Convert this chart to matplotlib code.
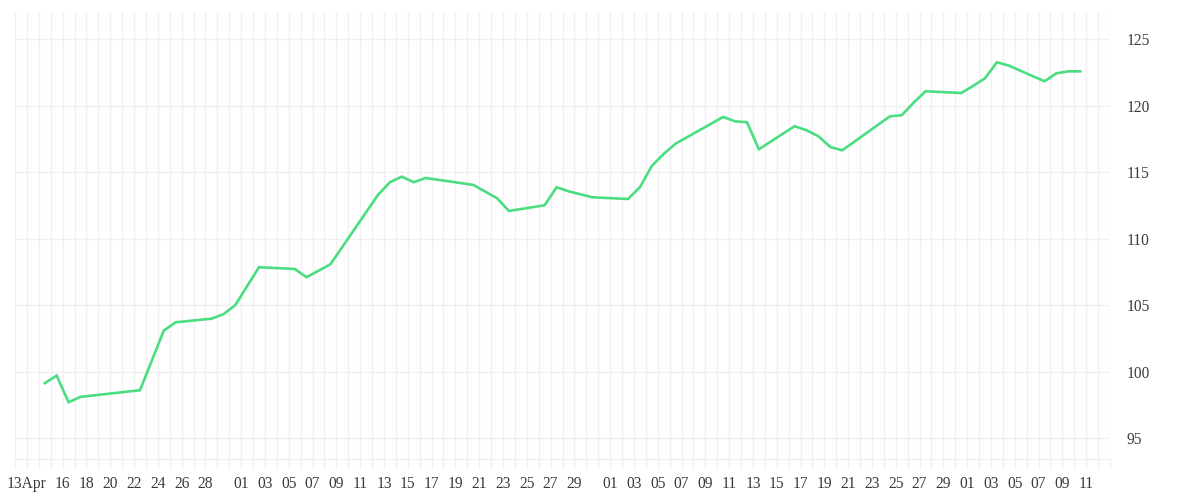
import numpy as np
import pandas as pd
from matplotlib import pyplot as plt
from matplotlib import ticker

# closing values, one per trading day
dates = [
    "2024-04-14", "2024-04-15", "2024-04-16", "2024-04-17", "2024-04-22",
    "2024-04-24", "2024-04-25", "2024-04-28", "2024-04-29", "2024-04-30",
    "2024-05-02", "2024-05-05", "2024-05-06", "2024-05-08", "2024-05-12",
    "2024-05-13", "2024-05-14", "2024-05-15", "2024-05-16", "2024-05-20",
    "2024-05-22", "2024-05-23", "2024-05-26", "2024-05-27", "2024-05-28",
    "2024-05-30", "2024-06-02", "2024-06-03", "2024-06-04", "2024-06-05",
    "2024-06-06", "2024-06-10", "2024-06-11", "2024-06-12", "2024-06-13",
    "2024-06-16", "2024-06-17", "2024-06-18", "2024-06-19", "2024-06-20",
    "2024-06-24", "2024-06-25", "2024-06-26", "2024-06-27", "2024-06-30",
    "2024-07-01", "2024-07-02", "2024-07-03", "2024-07-04", "2024-07-07",
    "2024-07-08", "2024-07-09", "2024-07-10",
]
values = [
    99.14, 99.71, 97.71, 98.11, 98.61,
    103.09, 103.72, 103.99, 104.32, 105.00,
    107.86, 107.73, 107.11, 108.08, 113.30,
    114.25, 114.67, 114.25, 114.57, 114.05,
    113.05, 112.09, 112.52, 113.87, 113.57,
    113.12, 112.99, 113.87, 115.47, 116.38,
    117.15, 119.16, 118.83, 118.76, 116.73,
    118.46, 118.16, 117.71, 116.90, 116.65,
    119.20, 119.29, 120.23, 121.09, 120.96,
    121.49, 122.07, 123.27, 123.02, 121.84,
    122.44, 122.59, 122.59,
]

label_dates = [
    "2024-04-13", "2024-04-16", "2024-04-18", "2024-04-20", "2024-04-22",
    "2024-04-24", "2024-04-26", "2024-04-28",
    "2024-05-01", "2024-05-03", "2024-05-05", "2024-05-07", "2024-05-09",
    "2024-05-11", "2024-05-13", "2024-05-15", "2024-05-17", "2024-05-19",
    "2024-05-21", "2024-05-23", "2024-05-25", "2024-05-27", "2024-05-29",
    "2024-06-01", "2024-06-03", "2024-06-05", "2024-06-07", "2024-06-09",
    "2024-06-11", "2024-06-13", "2024-06-15", "2024-06-17", "2024-06-19",
    "2024-06-21", "2024-06-23", "2024-06-25", "2024-06-27", "2024-06-29",
    "2024-07-01", "2024-07-03", "2024-07-05", "2024-07-07", "2024-07-09",
    "2024-07-11",
]
y_ticks = [95, 100, 105, 110, 115, 120, 125]

plt.rcParams['font.family'] = ['Liberation Serif', 'DejaVu Serif']

grid_color = '#f0f0f0'
text_color = '#3a3a3a'

x = pd.to_datetime(dates) + pd.Timedelta(hours=12)
labels_at = pd.to_datetime(label_dates)

fig = plt.figure(figsize=(12, 5), dpi=100)
ax = fig.add_axes([15 / 1200, 41 / 500, 1095 / 1200, 447 / 500])

ax.plot(x, values, '-', color='#4ade80', linewidth=1.9, solid_joinstyle='miter', zorder=3)

start = pd.Timestamp("2024-04-12")
end = pd.Timestamp("2024-07-13")
ax.set_xlim(start, end)
ax.set_ylim(93.44, 127.05)

# one tick and grid line per day, labels only on chosen days
days = pd.date_range(start, end, freq='D')
day_labels = []
for d in days:
    if d in labels_at:
        if d == labels_at[0]:
            day_labels.append(d.strftime('%d') + d.strftime('%b'))
        else:
            day_labels.append(d.strftime('%d'))
    else:
        day_labels.append('')
ax.xaxis.set_major_locator(ticker.FixedLocator([plt.matplotlib.dates.date2num(d) for d in days]))
ax.xaxis.set_major_formatter(ticker.FixedFormatter(day_labels))
ax.tick_params(axis='x', length=7.5, width=1, color=grid_color, pad=4.5,
               labelsize=11.2, labelcolor=text_color)

ax.yaxis.tick_right()
ax.set_yticks(y_ticks)
ax.tick_params(axis='y', length=0, pad=12, labelsize=11.2, labelcolor=text_color)
for t in ax.get_yticklabels():
    t.set_horizontalalignment('left')

ax.grid(True, color=grid_color, linewidth=1)
ax.set_axisbelow(True)

for side in ['top', 'left', 'right']:
    ax.spines[side].set_visible(False)
ax.spines['bottom'].set_color(grid_color)
ax.spines['bottom'].set_linewidth(1)

fig.savefig('out.png', dpi=100)
